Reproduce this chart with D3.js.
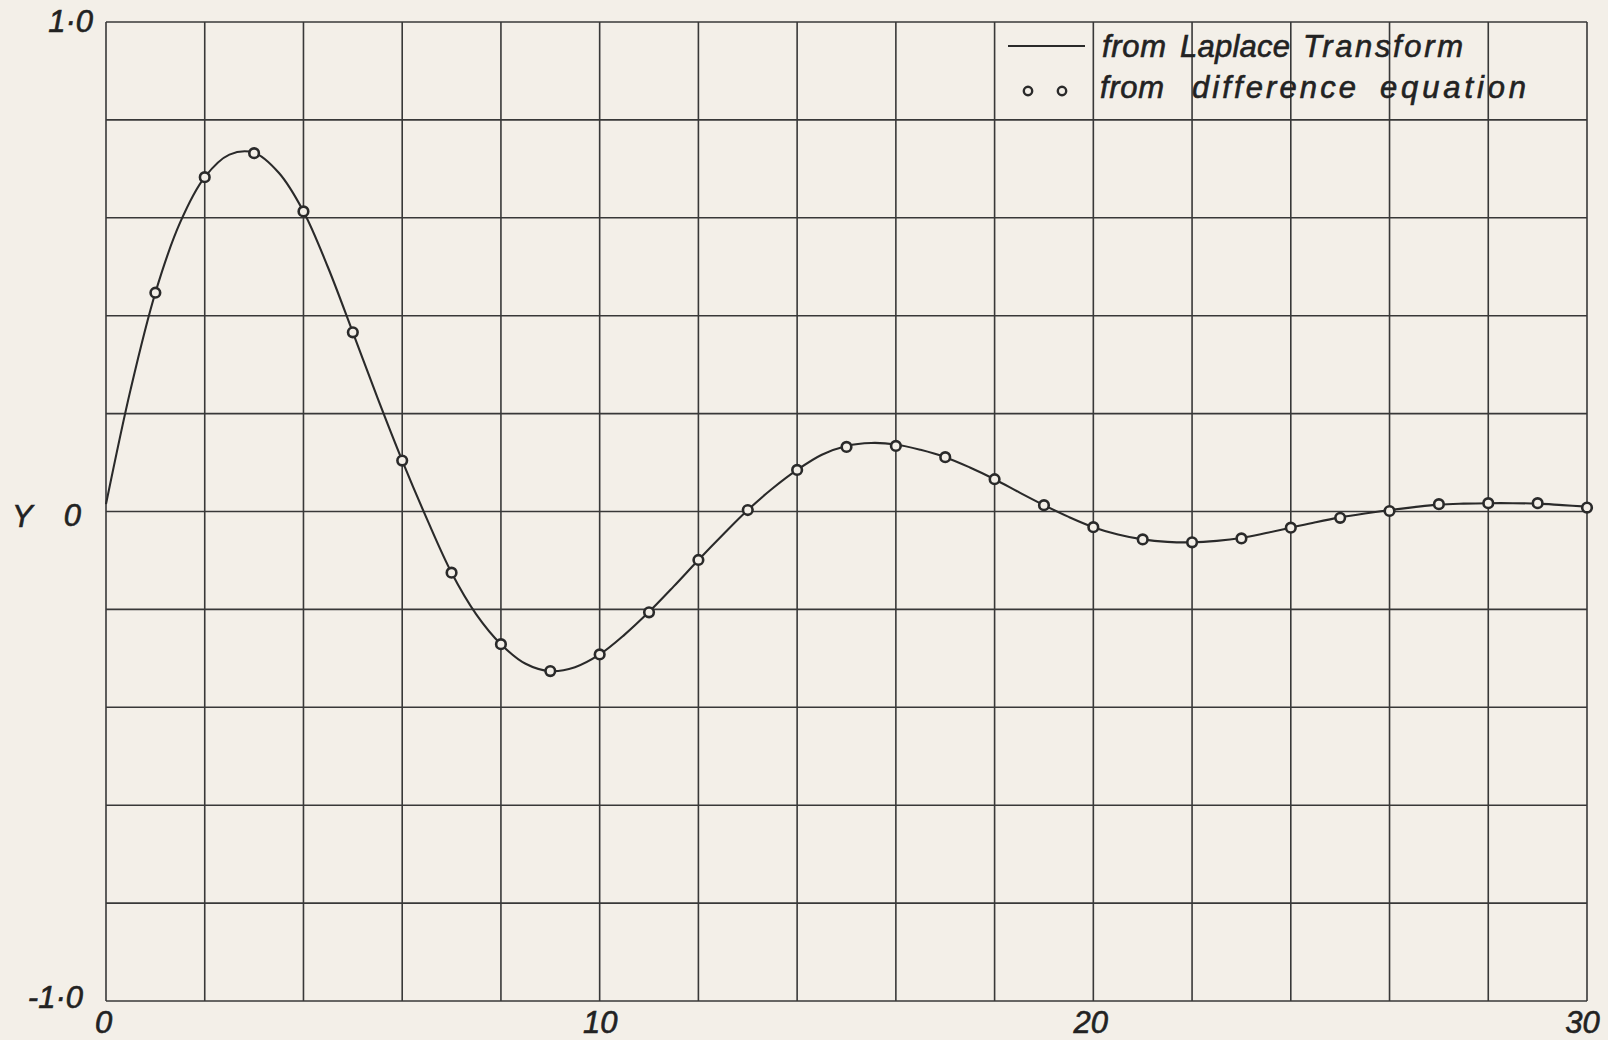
<!DOCTYPE html>
<html>
<head>
<meta charset="utf-8">
<script src="https://cdn.jsdelivr.net/npm/d3@7"></script>
<style>
  html, body { margin: 0; padding: 0; background: #f3efe8; }
  svg { display: block; }
  text { font-family: "Liberation Sans", Arial, sans-serif; font-style: italic; fill: #222; stroke: #222; stroke-width: 0.6; }
</style>
</head>
<body>
<svg id="chart" width="1608" height="1040"></svg>
<script>
// ---- data ----
const xTickValues = [0, 10, 20, 30];
const xTickLabels = ["0", "10", "20", "30"];
const yTickValues = [1, 0, -1];
const yTickLabels = ["1·0", "0", "-1·0"];
const yAxisTitle = "Y";

// difference equation points (x = 1..30)
const diffX = [1,2,3,4,5,6,7,8,9,10,11,12,13,14,15,16,17,18,19,20,21,22,23,24,25,26,27,28,29,30];
const diffY = [0.447, 0.683, 0.732, 0.613, 0.366, 0.104, -0.125, -0.271, -0.326, -0.292,
               -0.206, -0.099, 0.003, 0.085, 0.132, 0.134, 0.111, 0.066, 0.013, -0.032,
               -0.057, -0.063, -0.055, -0.033, -0.013, 0.001, 0.015, 0.017, 0.017, 0.008];

// Laplace transform curve, read at half steps 0, 0.5, ..., 30
const curveX = [0,0.5,1,1.5,2,2.5,3,3.5,4,4.5,5,5.5,6,6.5,7,7.5,8,8.5,9,9.5,10,10.5,11,11.5,12,12.5,13,13.5,14,14.5,15,
                15.5,16,16.5,17,17.5,18,18.5,19,19.5,20,20.5,21,21.5,22,22.5,23,23.5,24,24.5,25,25.5,26,26.5,27,27.5,28,28.5,29,29.5,30];
const curveY = [0.015, 0.250, 0.447, 0.590, 0.683, 0.729, 0.733, 0.692, 0.613, 0.498,
                0.366, 0.232, 0.104, -0.015, -0.125, -0.210, -0.271, -0.311, -0.326, -0.318,
                -0.292, -0.252, -0.205, -0.153, -0.099, -0.047, 0.003, 0.047, 0.085, 0.116,
                0.134, 0.140, 0.137, 0.126, 0.111, 0.090, 0.066, 0.039, 0.013, -0.011,
                -0.032, -0.047, -0.057, -0.062, -0.063, -0.060, -0.054, -0.044, -0.033, -0.022,
                -0.012, -0.004, 0.003, 0.009, 0.014, 0.016, 0.017, 0.017, 0.016, 0.013, 0.010];

const legendLine = "from Laplace Transform";
const legendDots = "from difference equation";

// ---- drawing ----
const svg = d3.select("#chart");
const ink = "#2a2a2a";

svg.append("rect").attr("width", 1608).attr("height", 1040).attr("fill", "#f3efe8");

const x = d3.scaleLinear().domain([0, 30]).range([106, 1587]);
const y = d3.scaleLinear().domain([-1, 1]).range([1001, 22]);

// grid
const grid = svg.append("g").attr("stroke", "#383838").attr("stroke-width", 1.6).attr("fill", "none");
grid.selectAll("line.v").data(x.ticks(15)).join("line")
  .attr("class", "v")
  .attr("x1", d => x(d)).attr("x2", d => x(d))
  .attr("y1", y(1)).attr("y2", y(-1));
grid.selectAll("line.h").data(y.ticks(10)).join("line")
  .attr("class", "h")
  .attr("x1", x(0)).attr("x2", x(30))
  .attr("y1", d => y(d)).attr("y2", d => y(d));

// axes (labels only)
const xAxis = d3.axisBottom(x).tickValues(xTickValues)
  .tickFormat((d, i) => xTickLabels[i]).tickSize(0).tickPadding(10);
const gx = svg.append("g").attr("transform", `translate(0,${y(-1)})`).call(xAxis);
gx.select(".domain").remove();
gx.selectAll("text").attr("font-size", 31).attr("fill", "#222")
  .attr("font-family", "Liberation Sans, Arial, sans-serif").attr("font-style", "italic")
  .attr("dx", (d, i) => [-3, 0, -3, -5][i]);

const yAxis = d3.axisLeft(y).tickValues(yTickValues)
  .tickFormat((d, i) => yTickLabels[i]).tickSize(0).tickPadding(13);
const gy = svg.append("g").attr("transform", `translate(${x(0)},0)`).call(yAxis);
gy.select(".domain").remove();
gy.selectAll("text").attr("font-size", 31).attr("fill", "#222")
  .attr("font-family", "Liberation Sans, Arial, sans-serif").attr("font-style", "italic")
  .attr("dx", (d, i) => [0, -12, -10][i])
  .attr("dy", (d, i) => ["0.32em", "0.45em", "0.2em"][i]);

svg.append("text").attr("x", 12).attr("y", y(0) + 15)
  .attr("font-size", 31).text(yAxisTitle);

// Laplace curve
const curvePts = curveX.map((d, i) => [d, curveY[i]]);
svg.append("path")
  .datum(curvePts)
  .attr("fill", "none").attr("stroke", ink).attr("stroke-width", 2.1)
  .attr("d", d3.line().x(d => x(d[0])).y(d => y(d[1])).curve(d3.curveCatmullRom.alpha(0.5)));

// difference-equation circles
svg.append("g").selectAll("circle")
  .data(diffX.map((d, i) => [d, diffY[i]]))
  .join("circle")
  .attr("cx", d => x(d[0])).attr("cy", d => y(d[1]))
  .attr("r", 4.8)
  .attr("fill", "#f3efe8").attr("stroke", ink).attr("stroke-width", 2.6);

// legend
const lg = svg.append("g");
lg.append("line").attr("x1", 1008).attr("x2", 1085).attr("y1", 46).attr("y2", 46)
  .attr("stroke", ink).attr("stroke-width", 2);
lg.selectAll("circle").data([1028, 1062]).join("circle")
  .attr("cx", d => d).attr("cy", 91).attr("r", 4.2)
  .attr("fill", "#f3efe8").attr("stroke", ink).attr("stroke-width", 2.4);

const row1 = legendLine.split(" ");
const row2 = legendDots.split(" ");
const row1X = [1102, 1180, 1303];
const row1W = [64, 110, 160];
const row2X = [1100, 1192, 1380];
const row2W = [64, 164, 146];
const t1 = lg.append("text").attr("font-size", 31).attr("y", 57);
row1.forEach((w, i) => t1.append("tspan").attr("x", row1X[i]).attr("textLength", row1W[i])
  .attr("lengthAdjust", "spacing").text(w));
const t2 = lg.append("text").attr("font-size", 31).attr("y", 98);
row2.forEach((w, i) => t2.append("tspan").attr("x", row2X[i]).attr("textLength", row2W[i])
  .attr("lengthAdjust", "spacing").text(w));
</script>
</body>
</html>
